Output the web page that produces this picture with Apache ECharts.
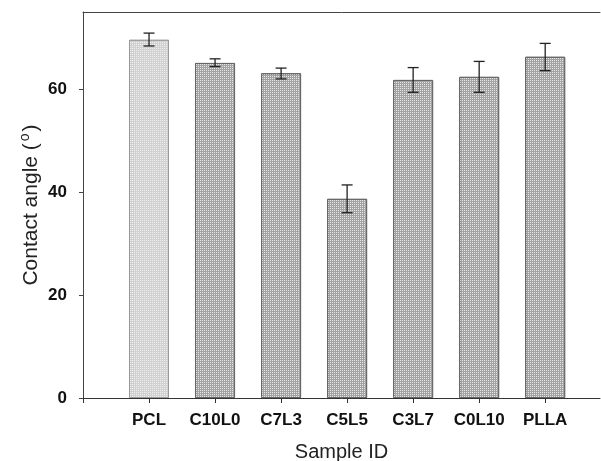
<!DOCTYPE html>
<html>
<head>
<meta charset="utf-8">
<script src="https://cdn.jsdelivr.net/npm/echarts@6/dist/echarts.min.js"></script>
<style>
  html, body { margin: 0; padding: 0; background: #fff; }
  #chart { width: 601px; height: 461px; }
</style>
</head>
<body>
<div id="chart"></div>
<script>
var samples = ['PCL', 'C10L0', 'C7L3', 'C5L5', 'C3L7', 'C0L10', 'PLLA'];
var angle = [69.6, 65.1, 63.1, 38.7, 61.8, 62.4, 66.3];
var errLow = [68.4, 64.4, 62.0, 36.0, 59.4, 59.4, 63.6];
var errHigh = [70.9, 65.9, 64.1, 41.4, 64.2, 65.4, 68.9];
var yTicks = [0, 20, 40, 60];

var chart = echarts.init(document.getElementById('chart'), null, {renderer: 'canvas'});

var fontFam = '"Liberation Sans", Arial, sans-serif';

function barStyle(i) {
    if (i === 0) {
        return {
            color: '#d0d0d0', borderColor: '#9a9a9a', borderWidth: 1,
            decal: {symbol: 'rect', symbolSize: 1, dashArrayX: [1, 1], dashArrayY: [1, 1], color: 'rgba(255,255,255,0.7)'}
        };
    }
    return {
        color: '#a2a2a2', borderColor: '#666', borderWidth: 1,
        decal: {symbol: 'rect', symbolSize: 1, dashArrayX: [1, 1], dashArrayY: [1, 1], color: 'rgba(255,255,255,0.75)'}
    };
}

var barData = angle.map(function (v, i) {
    return {value: [i + 1, v], itemStyle: barStyle(i)};
});
var errData = angle.map(function (v, i) {
    return [i + 1, errLow[i], errHigh[i]];
});

chart.setOption({
    animation: false,
    grid: {left: 83, right: 1, top: 12, bottom: 63, outerBoundsMode: 'none', containLabel: false},
    xAxis: [{
        type: 'value',
        min: 0, max: 7.83, interval: 1,
        name: 'Sample ID', nameLocation: 'middle', nameGap: 44, nameMoveOverlap: false,
        nameTextStyle: {fontFamily: fontFam, fontSize: 20, color: '#222'},
        axisLine: {lineStyle: {color: '#333', width: 1}},
        axisTick: {length: 5, lineStyle: {color: '#333'}},
        splitLine: {show: false},
        axisLabel: {
            margin: 14, fontFamily: fontFam, fontSize: 17, fontWeight: 'bold', color: '#111',
            showMaxLabel: false,
            formatter: function (v) { return samples[v - 1] || ''; }
        }
    }, {
        type: 'value', position: 'top', min: 0, max: 7.83,
        axisLine: {show: true, lineStyle: {color: '#444', width: 1}},
        axisTick: {show: false}, axisLabel: {show: false}, splitLine: {show: false}
    }],
    yAxis: {
        type: 'value', min: 0, max: 75, interval: 20,
        name: 'Contact angle ({sup|o})', nameLocation: 'middle', nameGap: 39, nameMoveOverlap: false,
        nameTextStyle: {
            fontFamily: fontFam, fontSize: 21, color: '#222',
            rich: {sup: {fontFamily: fontFam, fontSize: 14, color: '#222', verticalAlign: 'bottom', padding: [0, 2, 12, 2]}}
        },
        axisLine: {show: true, lineStyle: {color: '#444', width: 1}},
        axisTick: {length: 4, lineStyle: {color: '#444'}},
        splitLine: {show: false},
        axisLabel: {
            margin: 16, fontFamily: fontFam, fontSize: 17, fontWeight: 'bold', color: '#111',
            showMaxLabel: false,
            formatter: function (v) { return yTicks.indexOf(v) >= 0 ? String(v) : ''; }
        }
    },
    series: [{
        type: 'bar',
        data: barData,
        barWidth: 40
    }, {
        type: 'custom',
        data: errData,
        z: 5,
        renderItem: function (params, api) {
            var x = api.value(0);
            var lo = api.coord([x, api.value(1)]);
            var hi = api.coord([x, api.value(2)]);
            var cap = 5.5;
            var st = {stroke: '#222', lineWidth: 1.3};
            return {
                type: 'group',
                children: [
                    {type: 'line', shape: {x1: hi[0], y1: hi[1], x2: lo[0], y2: lo[1]}, style: st},
                    {type: 'line', shape: {x1: hi[0] - cap, y1: hi[1], x2: hi[0] + cap, y2: hi[1]}, style: st},
                    {type: 'line', shape: {x1: lo[0] - cap, y1: lo[1], x2: lo[0] + cap, y2: lo[1]}, style: st}
                ]
            };
        }
    }]
});
</script>
</body>
</html>
